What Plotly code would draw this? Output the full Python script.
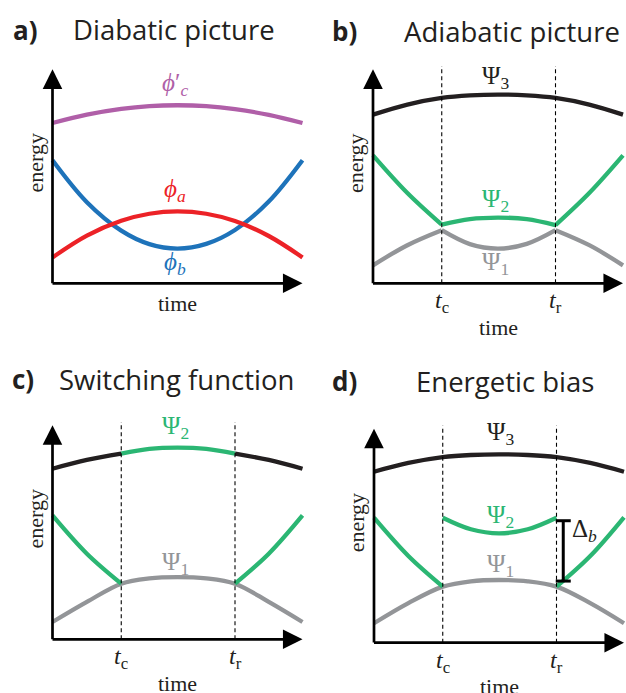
import plotly.graph_objects as go

W, H = 626, 693

# ---------------- data (schematic energies, arbitrary units) ----------------
T = [0.0, 0.1375, 0.275, 0.3875, 0.5, 0.615, 0.73, 0.865, 1.0]
TL = [0.0, 0.1375, 0.275]
TM = [0.275, 0.3875, 0.5, 0.615, 0.73]
TR = [0.73, 0.865, 1.0]
t_c, t_r = 0.275, 0.73

# a) diabatic picture
phi_c = [7.49, 7.88, 8.15, 8.28, 8.32, 8.28, 8.14, 7.87, 7.49]
phi_a = [1.21, 2.23, 2.92, 3.25, 3.36, 3.25, 2.91, 2.21, 1.21]
phi_b = [5.75, 3.79, 2.46, 1.83, 1.62, 1.84, 2.49, 3.82, 5.75]

# b) adiabatic picture
psi3_b = [7.88, 8.35, 8.66, 8.78, 8.82, 8.78, 8.66, 8.35, 7.88]
psi2_b_left = [5.98, 4.22, 2.74]
psi2_b_mid = [2.74, 3.00, 3.07, 3.00, 2.72]
psi2_b_right = [2.72, 4.22, 5.98]
psi1_b_left = [0.84, 1.78, 2.48]
psi1_b_mid = [2.48, 1.83, 1.62, 1.84, 2.48]
psi1_b_right = [2.48, 1.78, 0.84]

# c) switching function
top_c_left = [7.97, 8.38, 8.68]
top_c_mid = [8.68, 8.90, 8.96, 8.90, 8.68]
top_c_right = [8.68, 8.38, 7.97]
psi2_c_left = [5.79, 4.00, 2.60]
psi2_c_right = [2.60, 4.00, 5.79]
psi1_c = [0.81, 1.75, 2.60, 2.85, 2.91, 2.85, 2.60, 1.75, 0.81]

# d) energetic bias
psi3_d = [7.99, 8.40, 8.67, 8.77, 8.80, 8.77, 8.67, 8.40, 7.99]
psi2_d_left = [5.84, 4.05, 2.62]
psi2_d_mid = [5.84, 5.30, 5.11, 5.30, 5.84]
psi2_d_right = [2.62, 4.05, 5.86]
psi1_d = [0.91, 1.85, 2.62, 2.87, 2.93, 2.87, 2.62, 1.85, 0.91]
delta_t = 0.757
delta_b = [2.88, 5.70]

# ---------------- styling ----------------
PURPLE = "#B05FA8"
RED = "#EC2227"
BLUE = "#1E73BA"
GREEN = "#2BB673"
GRAY = "#939598"
BLACK = "#231F20"
LW = 4.3
SERIF = "Liberation Serif"
SANS = "Open Sans"

SX, SY = 250.0, 21.4
XR = (-0.12, 1.008)
YR = (-2.3, 10.6)
panels = {
    "a": dict(ox=52.5, oy=283.3, ax="x", ay="y"),
    "b": dict(ox=373.0, oy=283.3, ax="x2", ay="y2"),
    "c": dict(ox=52.5, oy=639.3, ax="x3", ay="y3"),
    "d": dict(ox=374.0, oy=642.7, ax="x4", ay="y4"),
}

fig = go.Figure()
layout_axes = {}
for i, (k, p) in enumerate(panels.items()):
    suf = "" if i == 0 else str(i + 1)
    x0 = (p["ox"] + XR[0] * SX) / W
    x1 = (p["ox"] + XR[1] * SX) / W
    yb = 1 - (p["oy"] - YR[0] * SY) / H
    yt = 1 - (p["oy"] - YR[1] * SY) / H
    layout_axes["xaxis" + suf] = dict(domain=[max(0, x0), min(1, x1)], range=list(XR),
                                      visible=False, anchor="y" + suf, fixedrange=True)
    layout_axes["yaxis" + suf] = dict(domain=[max(0, yb), min(1, yt)], range=list(YR),
                                      visible=False, anchor="x" + suf, fixedrange=True)


def line(p, x, y, color, width=LW):
    fig.add_trace(go.Scatter(x=x, y=y, mode="lines", xaxis=panels[p]["ax"], yaxis=panels[p]["ay"],
                             line=dict(color=color, width=width, shape="spline"),
                             hoverinfo="skip", showlegend=False))


annotations = []
shapes = []


def text(p, x, y, s, color=BLACK, size=21, font=SERIF, xanchor="center", angle=0):
    annotations.append(dict(x=x, y=y, xref=panels[p]["ax"], yref=panels[p]["ay"], text=s,
                            showarrow=False, font=dict(family=font, size=size, color=color),
                            xanchor=xanchor, yanchor="middle", textangle=angle))


def axes(p, with_ticks):
    ax, ay = panels[p]["ax"], panels[p]["ay"]
    annotations.append(dict(x=1.0, y=0, ax=-0.006, ay=0, xref=ax, yref=ay, axref=ax, ayref=ay,
                            showarrow=True, arrowhead=2, arrowsize=1.45, arrowwidth=2.7,
                            arrowcolor="black", text=""))
    annotations.append(dict(x=0, y=10.0, ax=0, ay=-0.065, xref=ax, yref=ay, axref=ax, ayref=ay,
                            showarrow=True, arrowhead=2, arrowsize=1.45, arrowwidth=2.7,
                            arrowcolor="black", text=""))
    text(p, -0.07, 5.6, "energy", size=22, angle=-90)
    if with_ticks:
        for tv, lab in [(t_c, "<i>t</i><sub>c</sub>"), (t_r, "<i>t</i><sub>r</sub>")]:
            shapes.append(dict(type="line", x0=tv, x1=tv, y0=0, y1=10.15, xref=ax, yref=ay,
                               line=dict(color="black", width=1.1, dash="4px,3px")))
            text(p, tv, -0.88, lab, size=24)
        text(p, 0.5, -2.05, "time", size=22)
    else:
        text(p, 0.5, -0.93, "time", size=22)


# a)
line("a", T, phi_c, PURPLE)
line("a", T, phi_b, BLUE)
line("a", T, phi_a, RED)
axes("a", False)
text("a", 0.49, 9.27, "<i>ϕ</i>′<sub><i>c</i></sub>", PURPLE, 25)
text("a", 0.49, 4.36, "<i>ϕ</i><sub><i>a</i></sub>", RED, 25)
text("a", 0.49, 0.94, "<i>ϕ</i><sub><i>b</i></sub>", BLUE, 25)

# b)
line("b", T, psi3_b, BLACK)
line("b", TL, psi2_b_left, GREEN)
line("b", TM, psi2_b_mid, GREEN)
line("b", TR, psi2_b_right, GREEN)
line("b", TL, psi1_b_left, GRAY)
line("b", TM, psi1_b_mid, GRAY)
line("b", TR, psi1_b_right, GRAY)
axes("b", True)
text("b", 0.49, 9.64, "Ψ<sub>3</sub>", BLACK, 25)
text("b", 0.49, 3.89, "Ψ<sub>2</sub>", GREEN, 25)
text("b", 0.49, 0.94, "Ψ<sub>1</sub>", GRAY, 25)

# c)
line("c", TL, top_c_left, BLACK)
line("c", TR, top_c_right, BLACK)
line("c", TM, top_c_mid, GREEN)
line("c", T, psi1_c, GRAY)
line("c", TL, psi2_c_left, GREEN)
line("c", TR, psi2_c_right, GREEN)
axes("c", True)
text("c", 0.49, 9.92, "Ψ<sub>2</sub>", GREEN, 25)
text("c", 0.49, 3.55, "Ψ<sub>1</sub>", GRAY, 25)

# d)
line("d", T, psi3_d, BLACK)
line("d", T, psi1_d, GRAY)
line("d", TL, psi2_d_left, GREEN)
line("d", TM, psi2_d_mid, GREEN)
line("d", TR, psi2_d_right, GREEN)
axes("d", True)
text("d", 0.504, 9.76, "Ψ<sub>3</sub>", BLACK, 25)
text("d", 0.504, 5.88, "Ψ<sub>2</sub>", GREEN, 25)
text("d", 0.504, 3.60, "Ψ<sub>1</sub>", GRAY, 25)
# bias bracket
fig.add_trace(go.Scatter(x=[delta_t, delta_t], y=delta_b, mode="lines", xaxis="x4", yaxis="y4",
                         line=dict(color="black", width=3), hoverinfo="skip", showlegend=False))
for yv in delta_b:
    fig.add_trace(go.Scatter(x=[delta_t - 0.03, delta_t + 0.03], y=[yv, yv], mode="lines",
                             xaxis="x4", yaxis="y4", line=dict(color="black", width=3),
                             hoverinfo="skip", showlegend=False))
text("d", 0.782, 5.25, "Δ<sub><i>b</i></sub>", BLACK, 25, xanchor="left")

# titles
titles = [
    (11, 30, "a)", 71, "Diabatic picture"),
    (330, 31, "b)", 402, "Adiabatic picture"),
    (10, 379, "c)", 57, "Switching function"),
    (330, 381, "d)", 414, "Energetic bias"),
]
for lx, ly, lab, tx, ttl in titles:
    annotations.append(dict(x=lx / W, y=1 - ly / H, xref="paper", yref="paper", text="<b>" + lab + "</b>",
                            showarrow=False, xanchor="left", yanchor="middle",
                            font=dict(family=SANS, size=26, color=BLACK)))
    annotations.append(dict(x=tx / W, y=1 - ly / H, xref="paper", yref="paper", text=ttl,
                            showarrow=False, xanchor="left", yanchor="middle",
                            font=dict(family=SANS, size=27.5, color=BLACK)))

fig.update_layout(width=W, height=H, margin=dict(l=0, r=0, t=0, b=0),
                  paper_bgcolor="white", plot_bgcolor="rgba(0,0,0,0)",
                  annotations=annotations, shapes=shapes, showlegend=False, **layout_axes)
fig.write_html("out.html", config={"displayModeBar": False})
